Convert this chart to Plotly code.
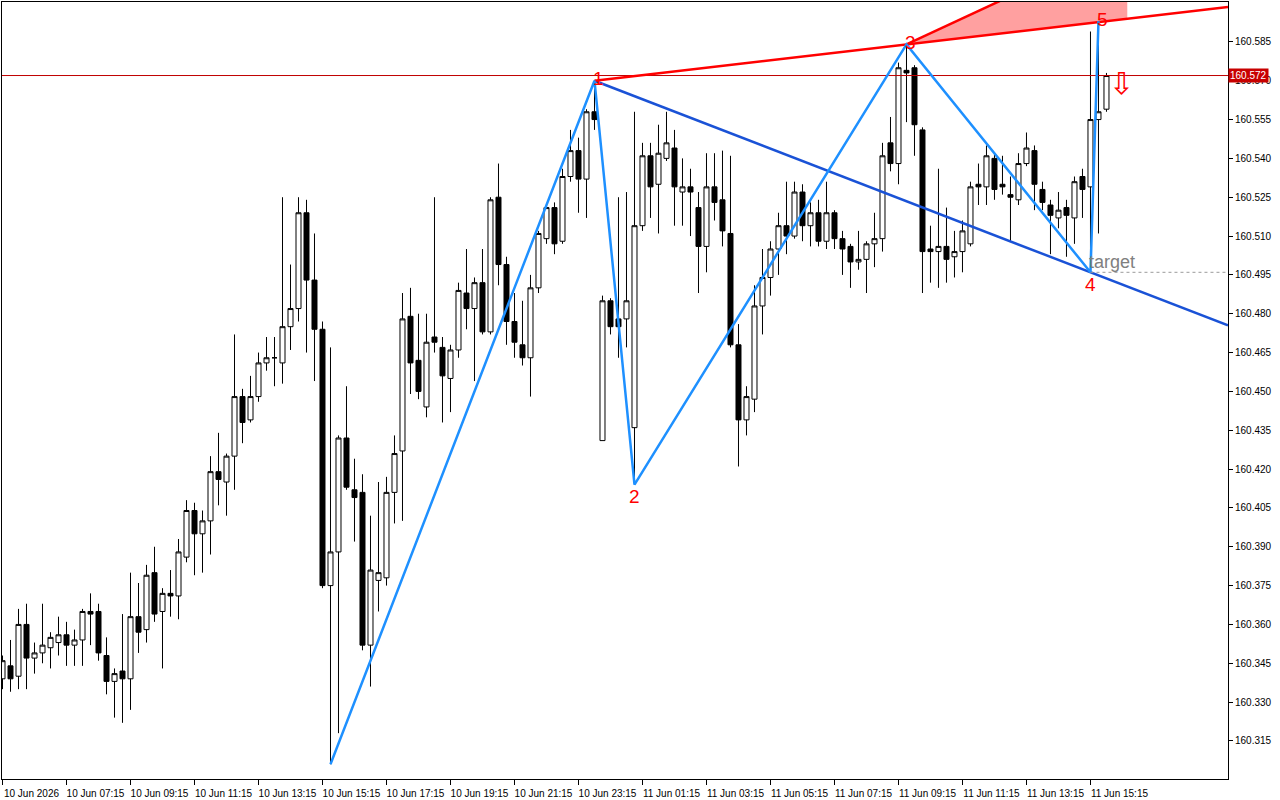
import plotly.graph_objects as go

# ---------------- data (USDJPY-like M15 bars) ----------------
bar_index = list(range(139))

open_prices = [
    160.339, 160.344, 160.340, 160.360, 160.347, 160.349, 160.351, 160.353, 160.356, 160.352,
    160.354, 160.365, 160.365, 160.348, 160.338, 160.342, 160.339, 160.363, 160.358, 160.380,
    160.365, 160.372, 160.371, 160.386, 160.404, 160.395, 160.400, 160.419, 160.415, 160.425,
    160.448, 160.439, 160.448, 160.461, 160.463, 160.461, 160.475, 160.482, 160.519, 160.493,
    160.474, 160.375, 160.388, 160.432, 160.412, 160.411, 160.352, 160.377, 160.378, 160.411,
    160.427, 160.479, 160.462, 160.444, 160.471, 160.467, 160.455, 160.466, 160.488, 160.482,
    160.492, 160.473, 160.525, 160.499, 160.477, 160.468, 160.463, 160.490, 160.509, 160.521,
    160.508, 160.533, 160.543, 160.532, 160.558, 160.431, 160.485, 160.478, 160.478, 160.436,
    160.514, 160.541, 160.530, 160.540, 160.544, 160.527, 160.529, 160.521, 160.506, 160.529,
    160.524, 160.511, 160.468, 160.439, 160.447, 160.483, 160.494, 160.505, 160.514, 160.510,
    160.527, 160.514, 160.519, 160.508, 160.519, 160.509, 160.506, 160.500, 160.501, 160.507,
    160.509, 160.546, 160.538, 160.574, 160.575, 160.551, 160.505, 160.504, 160.506, 160.502,
    160.504, 160.507, 160.530, 160.529, 160.540, 160.530, 160.526, 160.524, 160.538, 160.543,
    160.528, 160.522, 160.517, 160.521, 160.517, 160.533, 160.529, 160.555, 160.559,
]
high_prices = [
    160.348, 160.354, 160.366, 160.368, 160.353, 160.368, 160.357, 160.363, 160.361, 160.358,
    160.366, 160.372, 160.368, 160.355, 160.343, 160.364, 160.380, 160.376, 160.383, 160.390,
    160.374, 160.381, 160.393, 160.408, 160.407, 160.404, 160.425, 160.434, 160.426, 160.472,
    160.451, 160.456, 160.465, 160.471, 160.471, 160.525, 160.499, 160.525, 160.524, 160.511,
    160.477, 160.467, 160.433, 160.452, 160.424, 160.418, 160.402, 160.415, 160.417, 160.433,
    160.488, 160.490, 160.480, 160.480, 160.525, 160.471, 160.468, 160.492, 160.505, 160.494,
    160.505, 160.525, 160.538, 160.502, 160.488, 160.485, 160.495, 160.512, 160.522, 160.523,
    160.536, 160.551, 160.548, 160.559, 160.570, 160.487, 160.486, 160.525, 160.527, 160.558,
    160.546, 160.546, 160.553, 160.558, 160.551, 160.540, 160.536, 160.527, 160.542, 160.542,
    160.543, 160.541, 160.476, 160.452, 160.491, 160.505, 160.508, 160.519, 160.531, 160.531,
    160.530, 160.523, 160.524, 160.531, 160.520, 160.512, 160.507, 160.512, 160.508, 160.519,
    160.546, 160.556, 160.577, 160.584, 160.576, 160.552, 160.514, 160.536, 160.521, 160.512,
    160.516, 160.531, 160.538, 160.545, 160.542, 160.541, 160.533, 160.542, 160.550, 160.545,
    160.531, 160.524, 160.527, 160.524, 160.533, 160.536, 160.589, 160.593, 160.573,
]
low_prices = [
    160.335, 160.334, 160.335, 160.335, 160.341, 160.345, 160.343, 160.348, 160.344, 160.344,
    160.344, 160.352, 160.346, 160.333, 160.324, 160.322, 160.327, 160.349, 160.353, 160.361,
    160.343, 160.363, 160.362, 160.384, 160.379, 160.380, 160.387, 160.406, 160.402, 160.412,
    160.430, 160.438, 160.446, 160.458, 160.452, 160.453, 160.466, 160.477, 160.465, 160.454,
    160.374, 160.306, 160.318, 160.412, 160.392, 160.350, 160.336, 160.365, 160.375, 160.399,
    160.400, 160.449, 160.447, 160.440, 160.465, 160.438, 160.442, 160.463, 160.474, 160.454,
    160.472, 160.472, 160.491, 160.468, 160.463, 160.460, 160.448, 160.488, 160.507, 160.503,
    160.507, 160.531, 160.519, 160.517, 160.551, 160.431, 160.472, 160.463, 160.467, 160.414,
    160.512, 160.517, 160.511, 160.539, 160.514, 160.514, 160.510, 160.488, 160.496, 160.516,
    160.506, 160.467, 160.421, 160.433, 160.442, 160.472, 160.487, 160.495, 160.503, 160.509,
    160.508, 160.506, 160.506, 160.505, 160.505, 160.495, 160.490, 160.497, 160.488, 160.498,
    160.504, 160.535, 160.530, 160.554, 160.541, 160.488, 160.492, 160.490, 160.492, 160.494,
    160.496, 160.506, 160.522, 160.522, 160.524, 160.526, 160.508, 160.522, 160.537, 160.520,
    160.520, 160.503, 160.513, 160.502, 160.507, 160.517, 160.496, 160.511, 160.558,
]
close_prices = [
    160.346, 160.339, 160.360, 160.347, 160.349, 160.352, 160.355, 160.356, 160.352, 160.354,
    160.365, 160.364, 160.349, 160.338, 160.341, 160.339, 160.363, 160.357, 160.379, 160.364,
    160.372, 160.371, 160.388, 160.404, 160.395, 160.400, 160.419, 160.416, 160.425, 160.448,
    160.438, 160.448, 160.461, 160.463, 160.463, 160.475, 160.482, 160.519, 160.493, 160.474,
    160.375, 160.388, 160.432, 160.413, 160.409, 160.352, 160.381, 160.380, 160.411, 160.426,
    160.478, 160.461, 160.450, 160.469, 160.469, 160.456, 160.466, 160.489, 160.482, 160.492,
    160.473, 160.524, 160.499, 160.477, 160.469, 160.463, 160.490, 160.511, 160.521, 160.507,
    160.533, 160.543, 160.532, 160.558, 160.555, 160.485, 160.475, 160.475, 160.485, 160.514,
    160.541, 160.529, 160.542, 160.546, 160.529, 160.529, 160.527, 160.506, 160.529, 160.523,
    160.512, 160.468, 160.439, 160.448, 160.483, 160.494, 160.505, 160.514, 160.510, 160.527,
    160.514, 160.519, 160.508, 160.519, 160.509, 160.505, 160.500, 160.501, 160.507, 160.509,
    160.541, 160.538, 160.575, 160.573, 160.553, 160.504, 160.504, 160.506, 160.501, 160.504,
    160.512, 160.529, 160.529, 160.541, 160.528, 160.529, 160.525, 160.538, 160.544, 160.530,
    160.523, 160.518, 160.520, 160.518, 160.531, 160.528, 160.555, 160.558, 160.572,
]

# x-axis tick labels (every 8 bars = 2 hours)
tick_bars = [0, 8, 16, 24, 32, 40, 48, 56, 64, 72, 80, 88, 96, 104, 112, 120, 128, 136]
tick_labels = [
    "10 Jun 2026", "10 Jun 07:15", "10 Jun 09:15", "10 Jun 11:15", "10 Jun 13:15",
    "10 Jun 15:15", "10 Jun 17:15", "10 Jun 19:15", "10 Jun 21:15", "10 Jun 23:15",
    "11 Jun 01:15", "11 Jun 03:15", "11 Jun 05:15", "11 Jun 07:15", "11 Jun 09:15",
    "11 Jun 11:15", "11 Jun 13:15", "11 Jun 15:15",
]
price_ticks = [
    160.315, 160.330, 160.345, 160.360, 160.375, 160.390, 160.405, 160.420, 160.435, 160.450,
    160.465, 160.480, 160.495, 160.510, 160.525, 160.540, 160.555, 160.570, 160.585,
]

# Wolfe-wave pivots (bar, price) and their labels
pivot_bars = [41, 74, 79, 113, 136, 137]
pivot_prices = [160.306, 160.570, 160.414, 160.584, 160.496, 160.593]
pivot_labels = ["", "1", "2", "3", "4", "5"]
pivot_is_high = [False, True, False, True, False, True]

bid_price = 160.572
target_price = 160.496
sweet_zone_end_bar = 140.6
signal_arrow_bar = 139.85
signal_arrow_price = 160.5690

# ---------------- view ----------------
X_MIN, X_MAX = -0.0625, 153.19
Y_MIN, Y_MAX = 160.3003, 160.6004
FONT = "Liberation Sans, Arial, sans-serif"


def line_price(b1, p1, b2, p2, b):
    return p1 + (p2 - p1) * (b - b1) / (b2 - b1)


b1, b2, b3, b4 = pivot_bars[1], pivot_bars[2], pivot_bars[3], pivot_bars[4]
p1, p2, p3, p4 = pivot_prices[1], pivot_prices[2], pivot_prices[3], pivot_prices[4]

fig = go.Figure()

# sweet zone (between line 1-3 and a line through 3 parallel to 2-4)
zone_upper = p3 + (p4 - p2) / (b4 - b2) * (sweet_zone_end_bar - b3)
zone_lower = line_price(b1, p1, b3, p3, sweet_zone_end_bar)
fig.add_trace(go.Scatter(
    x=[b3, sweet_zone_end_bar, sweet_zone_end_bar, b3],
    y=[p3, zone_upper, zone_lower, p3],
    fill="toself", fillcolor="#ffa0a0", mode="lines", line=dict(width=0),
    hoverinfo="skip"))

fig.add_trace(go.Candlestick(
    x=bar_index, open=open_prices, high=high_prices, low=low_prices, close=close_prices,
    increasing=dict(line=dict(color="black", width=1), fillcolor="white"),
    decreasing=dict(line=dict(color="black", width=1), fillcolor="black"),
    whiskerwidth=0, name="USDJPY,M15"))

# bid line
fig.add_trace(go.Scatter(x=[X_MIN, X_MAX], y=[bid_price, bid_price], mode="lines",
                         line=dict(color="#c00000", width=1), hoverinfo="skip"))

# line 1-4 extended (target line)
fig.add_trace(go.Scatter(x=[b1, X_MAX], y=[p1, line_price(b1, p1, b4, p4, X_MAX)], mode="lines",
                         line=dict(color="#1a52d6", width=2.5), hoverinfo="skip"))
# line 1-3 extended
fig.add_trace(go.Scatter(x=[b1, X_MAX], y=[p1, line_price(b1, p1, b3, p3, X_MAX)], mode="lines",
                         line=dict(color="#ff0000", width=2.5), hoverinfo="skip"))
# upper edge of sweet zone
fig.add_trace(go.Scatter(x=[b3, sweet_zone_end_bar], y=[p3, zone_upper], mode="lines",
                         line=dict(color="#ff0000", width=2.5), hoverinfo="skip"))
# zigzag
fig.add_trace(go.Scatter(x=pivot_bars, y=pivot_prices, mode="lines",
                         line=dict(color="#1e90ff", width=2.5), hoverinfo="skip"))
# target level
fig.add_trace(go.Scatter(x=[b4, X_MAX], y=[target_price, target_price], mode="lines",
                         line=dict(color="#9a9a9a", width=1, dash="dot"), hoverinfo="skip"))

annotations = []
for b, p, lab, hi in zip(pivot_bars, pivot_prices, pivot_labels, pivot_is_high):
    if not lab:
        continue
    annotations.append(dict(
        x=b, y=p, xref="x", yref="y", text=lab, showarrow=False,
        xanchor="center", yanchor="middle",
        xshift=4 if hi else 0, yshift=2 if hi else -12,
        font=dict(family=FONT, size=19, color="#ff0000")))
annotations.append(dict(
    x=b4, y=target_price, xref="x", yref="y", text="target", showarrow=False,
    xanchor="left", yanchor="bottom", xshift=-3, yshift=-2,
    font=dict(family=FONT, size=18, color="#808080")))
annotations.append(dict(
    x=signal_arrow_bar, y=signal_arrow_price, xref="x", yref="y", text="\u21e9", showarrow=False,
    xanchor="center", yanchor="middle",
    font=dict(family="DejaVu Sans", size=30, color="#ff0000")))
annotations.append(dict(
    x=1, y=bid_price, xref="paper", yref="y", text=f"{bid_price:.3f}", showarrow=False,
    xanchor="left", yanchor="middle", bgcolor="#c80000", borderpad=1,
    font=dict(family=FONT, size=10, color="white")))

fig.update_layout(
    width=1280, height=800,
    margin=dict(l=2, r=52, t=2, b=21),
    paper_bgcolor="white", plot_bgcolor="white",
    showlegend=False,
    boxgap=0.375, boxgroupgap=0,
    font=dict(family=FONT, size=10, color="black"),
    annotations=annotations,
    xaxis=dict(range=[X_MIN, X_MAX], tickvals=tick_bars, ticktext=tick_labels, tickangle=0,
               ticks="outside", ticklen=5, tickcolor="black", showgrid=False, zeroline=False,
               showline=True, linecolor="black", linewidth=1, mirror=True,
               rangeslider=dict(visible=False), ticklabelshift=29, automargin=False,
               tickfont=dict(family=FONT, size=10, color="black")),
    yaxis=dict(range=[Y_MIN, Y_MAX], side="right", tickvals=price_ticks, tickformat=".3f",
               ticks="outside", ticklen=4, tickcolor="black", showgrid=False, zeroline=False,
               showline=True, linecolor="black", linewidth=1, mirror=True, automargin=False,
               tickfont=dict(family=FONT, size=10, color="black")),
)

fig.write_html("out.html", config={"displayModeBar": False},
               post_script="document.body.style.margin='0';")
